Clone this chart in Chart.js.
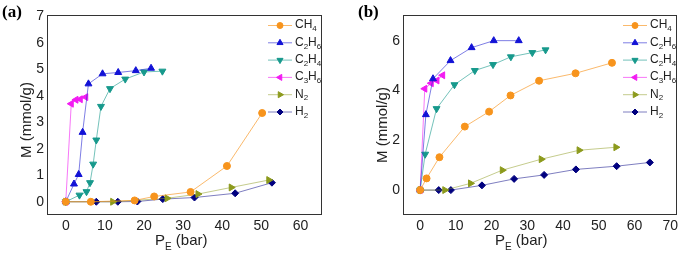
<!DOCTYPE html>
<html>
<head>
<meta charset="utf-8">
<script src="https://cdn.jsdelivr.net/npm/chart.js@4"></script>
<style>
  body { margin: 0; background: #fff; }
  .panel { position: absolute; top: 0; height: 256px; }
  #wrapA { left: 0; width: 343px; }
  #wrapB { left: 343px; width: 342px; }
</style>
</head>
<body>
<div class="panel" id="wrapA"><canvas id="chartA"></canvas></div>
<div class="panel" id="wrapB"><canvas id="chartB"></canvas></div>
<script>
// gases, in legend order
const gases = ['CH4', 'C2H6', 'C2H4', 'C3H6', 'N2', 'H2'];

// panel (a): [P_E (bar), M (mmol/g)]
const aCH4  = [[0, 0], [6.4, 0], [17.6, 0.05], [22.6, 0.2], [31.9, 0.37], [41.2, 1.35], [50.2, 3.35]];
const aC2H6 = [[0, 0], [2.1, 0.67], [3.3, 1.03], [4.3, 2.62], [5.8, 4.45], [9.4, 4.83], [13.4, 4.88], [17.9, 4.95], [21.8, 5.04]];
const aC2H4 = [[0, 0], [3.5, 0.25], [5.3, 0.38], [6.2, 0.72], [7.0, 1.42], [7.8, 2.33], [9.0, 3.6], [11.3, 4.27], [15.2, 4.63], [20.0, 4.9], [24.7, 4.93]];
const aC3H6 = [[0, 0], [1.4, 3.7], [2.6, 3.85], [3.7, 3.87], [5.1, 3.95]];
const aN2   = [[0, 0], [12.0, 0], [25.9, 0.13], [33.8, 0.29], [42.3, 0.54], [51.9, 0.82]];
const aH2   = [[0, 0], [7.8, 0], [13.3, 0], [18.3, 0.01], [24.8, 0.1], [32.9, 0.16], [43.3, 0.32], [52.7, 0.72]];

// panel (b)
const bCH4  = [[0, 0], [1.8, 0.47], [5.4, 1.32], [12.5, 2.55], [19.3, 3.15], [25.3, 3.8], [33.3, 4.39], [43.5, 4.69], [53.7, 5.11]];
const bC2H6 = [[0, 0], [1.6, 3.03], [3.6, 4.47], [8.5, 5.2], [14.4, 5.72], [20.6, 6.0], [27.6, 6.0]];
const bC2H4 = [[0, 0], [1.4, 1.44], [4.6, 3.27], [9.6, 4.23], [15.3, 4.8], [20.4, 5.04], [25.4, 5.35], [31.4, 5.52], [35.1, 5.63]];
const bC3H6 = [[0, 0], [1.3, 4.07], [3.1, 4.29], [4.7, 4.4], [6.3, 4.61]];
const bN2   = [[0, 0], [6.9, 0], [14.1, 0.27], [23.0, 0.8], [33.9, 1.24], [44.5, 1.6], [54.8, 1.72]];
const bH2   = [[0, 0], [5.2, 0], [8.6, 0], [17.3, 0.19], [26.3, 0.45], [34.7, 0.61], [43.6, 0.83], [55.0, 0.96], [64.3, 1.11]];

// tick labels
const aXTicks = [0, 10, 20, 30, 40, 50, 60];
const aYTicks = [0, 1, 2, 3, 4, 5, 6, 7];
const bXTicks = [0, 10, 20, 30, 40, 50, 60, 70];
const bYTicks = [0, 2, 4, 6];

// look of each gas
const styles = [
  { color: '#f7941d', line: 'rgba(247,148,29,0.65)', point: 'circle', rot: 0, r: 3.5 },
  { color: '#1212d6', line: 'rgba(40,40,210,0.6)', point: 'triangle', rot: 0, r: 4 },
  { color: '#17998c', line: 'rgba(23,153,140,0.6)', point: 'triangle', rot: 180, r: 4 },
  { color: '#f21cf2', line: 'rgba(242,28,242,0.6)', point: 'triangle', rot: -90, r: 4 },
  { color: '#8c9a1c', line: 'rgba(140,154,28,0.5)', point: 'triangle', rot: 90, r: 4 },
  { color: '#00007f', line: 'rgba(40,40,150,0.6)', point: 'rectRot', rot: 0, r: 3.5 }
];

const font = '"Liberation Sans", Arial, sans-serif';

// draws text where digits become subscripts
function drawSub(ctx, text, x, y, size, subSize, drop) {
  for (const ch of text) {
    const isSub = /[0-9]/.test(ch);
    ctx.font = (isSub ? subSize : size) + 'px ' + font;
    ctx.fillText(ch, x, isSub ? y + drop : y);
    x += ctx.measureText(ch).width;
  }
}

const deco = {
  id: 'deco',
  afterDraw(chart, args, o) {
    const ctx = chart.ctx, a = chart.chartArea;
    ctx.save();
    // frame
    ctx.strokeStyle = '#333';
    ctx.lineWidth = 1;
    ctx.strokeRect(Math.round(a.left) + 0.5, Math.round(a.top) + 0.5,
      Math.round(a.right - a.left) - 1, Math.round(a.bottom - a.top) - 1);

    ctx.fillStyle = '#000';
    ctx.textBaseline = 'alphabetic';
    // panel tag
    ctx.font = 'bold 17px "Liberation Serif", serif';
    ctx.fillText(o.tag, o.tagX, 17);

    // x title P_E (bar)
    ctx.fillStyle = '#222';
    ctx.font = '15px ' + font;
    ctx.fillText('P', o.xTitleX, 245);
    let w = ctx.measureText('P').width;
    ctx.font = '10px ' + font;
    ctx.fillText('E', o.xTitleX + w, 250);
    w += ctx.measureText('E').width;
    ctx.font = '15px ' + font;
    ctx.fillText(' (bar)', o.xTitleX + w, 245);

    // y title
    ctx.save();
    ctx.translate(o.yTitleX, o.yTitleY);
    ctx.rotate(-Math.PI / 2);
    ctx.textAlign = 'center';
    ctx.textBaseline = 'middle';
    ctx.fillText('M (mmol/g)', 0, 0);
    ctx.restore();

    // legend
    chart.data.datasets.forEach((ds, i) => {
      const s = styles[i];
      const y = o.legY + i * o.legStep;
      ctx.strokeStyle = s.line;
      ctx.lineWidth = 1;
      ctx.beginPath();
      ctx.moveTo(o.legX, y + 0.5);
      ctx.lineTo(o.legX + 24, y + 0.5);
      ctx.stroke();
      ctx.fillStyle = s.color;
      ctx.strokeStyle = s.color;
      Chart.helpers.drawPoint(ctx, { pointStyle: s.point, rotation: s.rot, radius: s.r - 0.5, borderWidth: 1 }, o.legX + 12, y + 0.5);
      ctx.fillStyle = '#222';
      ctx.textBaseline = 'middle';
      drawSub(ctx, gases[i], o.legX + 27, y, 12, 8, 4);
    });
    ctx.restore();
  }
};

function makeDatasets(series) {
  return series.map((pts, i) => ({
    label: gases[i],
    data: pts.map(p => ({ x: p[0], y: p[1] })),
    borderColor: styles[i].line,
    backgroundColor: styles[i].color,
    pointBorderColor: styles[i].color,
    pointBackgroundColor: styles[i].color,
    pointStyle: styles[i].point,
    pointRotation: styles[i].rot,
    pointRadius: styles[i].r,
    borderWidth: 1,
    tension: 0
  }));
}

function makeChart(id, series, xr, yr, xTicks, yTicks, yWidth, padRight, o) {
  const tickFont = { family: font, size: 14 };
  return new Chart(document.getElementById(id), {
    type: 'line',
    data: { datasets: makeDatasets(series) },
    options: {
      responsive: true,
      maintainAspectRatio: false,
      animation: false,
      layout: { padding: { top: 15, right: padRight, left: 0, bottom: 0 } },
      plugins: { legend: { display: false }, tooltip: { enabled: false }, deco: o },
      scales: {
        x: {
          type: 'linear', min: xr[0], max: xr[1],
          grid: { display: false, drawTicks: false },
          border: { display: false },
          afterBuildTicks: s => { s.ticks = xTicks.map(v => ({ value: v })); },
          afterFit: s => { s.height = 41; },
          ticks: { font: tickFont, color: '#222', padding: 3, maxRotation: 0, autoSkip: false }
        },
        y: {
          type: 'linear', min: yr[0], max: yr[1],
          grid: { display: false, drawTicks: false },
          border: { display: false },
          afterBuildTicks: s => { s.ticks = yTicks.map(v => ({ value: v })); },
          afterFit: s => { s.width = yWidth; },
          ticks: { font: tickFont, color: '#222', padding: 3, autoSkip: false }
        }
      }
    },
    plugins: [deco]
  });
}

makeChart('chartA', [aCH4, aC2H6, aC2H4, aC3H6, aN2, aH2], [-4.8, 65.5], [-0.5, 7.05],
  aXTicks, aYTicks, 47, 21,
  { tag: '(a)', tagX: 2, xTitleX: 155, yTitleX: 27, yTitleY: 120, legX: 268, legY: 25, legStep: 17.3 });

makeChart('chartB', [bCH4, bC2H6, bC2H4, bC3H6, bN2, bH2], [-4.8, 71.9], [-1, 7.03],
  bXTicks, bYTicks, 60, 8,
  { tag: '(b)', tagX: 15, xTitleX: 152, yTitleX: 40, yTitleY: 125, legX: 280, legY: 25, legStep: 17.3 });
</script>
</body>
</html>
